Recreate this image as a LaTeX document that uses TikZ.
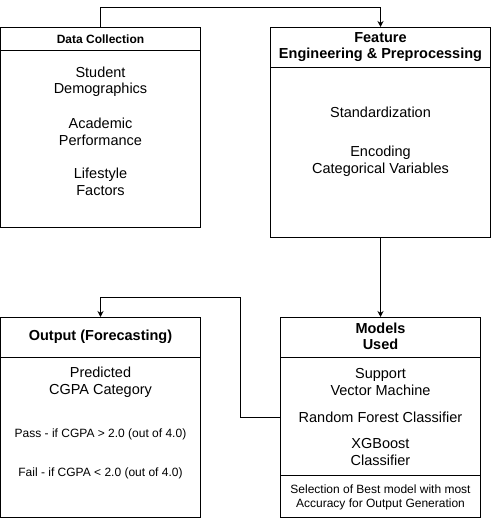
\documentclass[tikz,border=0pt]{standalone}
\usepackage{fontspec}
\setmainfont{Liberation Sans}
\usetikzlibrary{arrows.meta}
\begin{document}
\begin{tikzpicture}[x=1pt,y=-1pt,
  boxnode/.style={draw,line width=1pt,inner sep=0pt,anchor=center},
  sepline/.style={line width=1pt},
  big/.style={font=\fontsize{14.5}{16.5}\selectfont,align=center,inner sep=0pt},
  bigb/.style={font=\fontsize{14.5}{16.5}\selectfont\bfseries,align=center,inner sep=0pt},
  small/.style={font=\fontsize{12}{14}\selectfont,align=center,inner sep=0pt},
  smallb/.style={font=\fontsize{12}{14}\selectfont\bfseries,align=center,inner sep=0pt},
  conn/.style={line width=1pt,-{Stealth[length=6pt,width=6pt]}}]
\useasboundingbox (0,0) rectangle (491,518);
% boxes
\node[boxnode,minimum width=200pt,minimum height=200pt] (dc) at (100.5,127.5) {};
\node[boxnode,minimum width=220pt,minimum height=210pt] (fe) at (380.5,132.5) {};
\node[boxnode,minimum width=200pt,minimum height=200pt] (mo) at (380.5,417.5) {};
\node[boxnode,minimum width=200pt,minimum height=200pt] (out) at (100.5,417.5) {};
% separators
\draw[sepline] (0.5,50.5) -- (200.5,50.5);
\draw[sepline] (270.5,67.5) -- (490.5,67.5);
\draw[sepline] (280.5,357.5) -- (480.5,357.5);
\draw[sepline] (280.5,475.5) -- (480.5,475.5);
\draw[sepline] (0.5,357.5) -- (200.5,357.5);
% texts
\node[smallb] (dch) at (100.5,39) {Data Collection};
\node[big] (dc1) at (100.5,82) {Student\\Demographics};
\node[big] (dc2) at (100.5,132) {Academic\\Performance};
\node[big] (dc3) at (100.5,182) {Lifestyle\\Factors};
\node[bigb] (feh) at (380.5,47) {Feature\\Engineering \& Preprocessing};
\node[big] (fe1) at (380.5,112) {Standardization};
\node[big] (fe2) at (380.5,161.5) {Encoding\\Categorical Variables};
\node[bigb] (moh) at (380.5,336.5) {Models\\Used};
\node[big] (mo1) at (380.5,382) {Support\\Vector Machine};
\node[big] (mo2) at (380.5,417) {Random Forest Classifier};
\node[big] (mo3) at (380.5,452) {XGBoost\\Classifier};
\node[small] (mo4) at (380.5,497) {Selection of Best model with most\\Accuracy for Output Generation};
\node[bigb] (outh) at (100.5,337) {Output (Forecasting)};
\node[big] (out1) at (100.5,382) {Predicted\\CGPA Category};
\node[small] (out2) at (100.5,434) {Pass - if CGPA > 2.0 (out of 4.0)};
\node[small] (out3) at (100.5,473) {Fail - if CGPA < 2.0 (out of 4.0)};
% connectors
\coordinate (k0) at (240.5,7.5);
\coordinate (k1) at (240.5,297.5);
\draw[conn] (dc.north) |- (k0) -| (fe.north);
\draw[conn] (fe.south) -- (mo.north);
\draw[conn] (mo.west) -| (k1) -| (out.north);
\end{tikzpicture}
\end{document}
